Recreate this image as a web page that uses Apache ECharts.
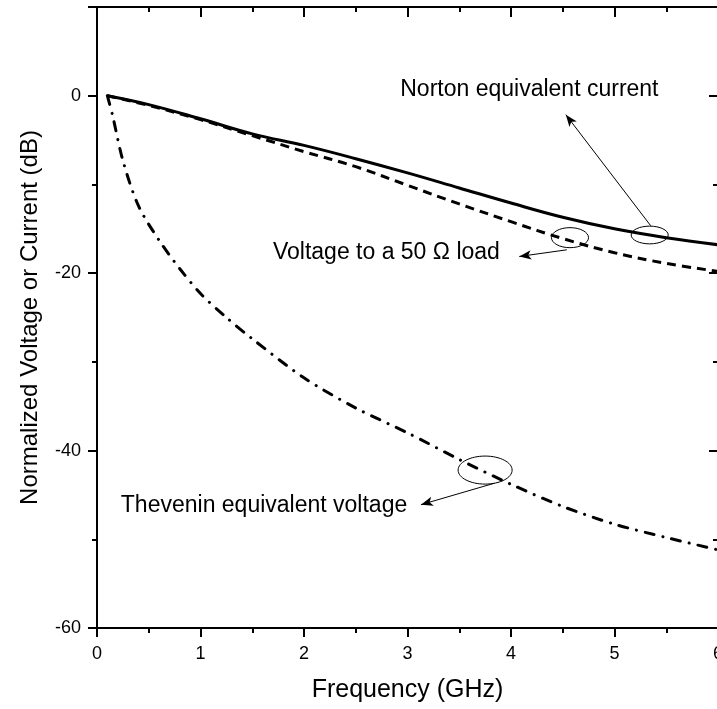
<!DOCTYPE html>
<html>
<head>
<meta charset="utf-8">
<script src="https://cdn.jsdelivr.net/npm/echarts@6/dist/echarts.min.js"></script>
<style>
  html, body { margin: 0; padding: 0; background: #fff; }
  #chart { width: 717px; height: 709px; }
</style>
</head>
<body>
<div id="chart"></div>
<script>
// curves (GHz, dB)
const nortonF = [0.1, 0.5, 1, 1.5, 2, 2.5, 3, 3.5, 4, 4.5, 5, 5.5, 6];
const nortonDb = [0, -1.0, -2.6, -4.3, -5.6, -7.1, -8.7, -10.4, -12.1, -13.7, -15.0, -16.0, -16.8];

const loadF = [0.1, 0.5, 1, 1.5, 2, 2.5, 3, 3.5, 4, 4.5, 5, 5.5, 6];
const loadDb = [0, -1.1, -2.7, -4.5, -6.3, -8.0, -10.1, -12.2, -14.2, -16.1, -17.7, -18.9, -19.8];

const theveninF = [0.1, 0.15, 0.25, 0.4, 0.6, 0.8, 1, 1.25, 1.5, 2, 2.5, 3, 3.5, 4, 4.5, 5, 5.5, 6];
const theveninDb = [0, -2.2, -7.3, -12.4, -16.3, -19.5, -22.3, -25.0, -27.4, -31.8, -35.2, -38.0, -41.0, -43.8, -46.3, -48.3, -49.8, -51.2];

// annotations, in data units: [f, dB, half-width GHz, half-height dB]
const ellipses = [
  [5.34, -15.7, 0.179, 1.0],
  [4.57, -16.0, 0.179, 1.13],
  [3.75, -42.2, 0.261, 1.58]
];
const arrows = [
  [[5.35, -14.66], [4.53, -2.14]],
  [[4.54, -17.37], [4.08, -18.12]],
  [[3.84, -43.68], [3.13, -46.1]]
];
const notes = [
  [2.93, 0.7, 'Norton equivalent current'],
  [1.7, -17.7, 'Voltage to a 50 \u03a9 load'],
  [0.23, -46.2, 'Thevenin equivalent voltage']
];

const xTicks = [0, 6, 1];
const yTicks = [-60, 10, 20];

const zip = (a, b) => a.map((v, i) => [v, b[i]]);
const FONT = '"Liberation Sans", Arial, sans-serif';
const black = '#000';

const chart = echarts.init(document.getElementById('chart'));

const baseX = {
  type: 'value',
  min: xTicks[0],
  max: xTicks[1],
  interval: xTicks[2],
  splitLine: { show: false },
  axisLine: { show: true, onZero: false, lineStyle: { color: black, width: 2 } },
  axisTick: { show: true, length: 9, lineStyle: { color: black, width: 2 } },
  minorTick: { show: true, splitNumber: 2, length: 5, lineStyle: { color: black, width: 2 } },
};
const baseY = {
  type: 'value',
  min: yTicks[0],
  max: yTicks[1],
  interval: yTicks[2],
  splitLine: { show: false },
  axisLine: { show: true, onZero: false, lineStyle: { color: black, width: 2 } },
  axisTick: { show: true, length: 9, lineStyle: { color: black, width: 2 } },
  minorTick: { show: true, splitNumber: 2, length: 5, lineStyle: { color: black, width: 2 } },
};

chart.setOption({
  animation: false,
  backgroundColor: '#fff',
  grid: { left: 97, right: -1, top: 7, bottom: 81, outerBoundsMode: 'none', containLabel: false },
  xAxis: [
    Object.assign({}, baseX, {
      position: 'bottom',
      name: 'Frequency (GHz)',
      nameLocation: 'middle',
      nameGap: 50,
      nameTextStyle: { color: black, fontSize: 25, fontFamily: FONT },
      axisLabel: { color: black, fontSize: 18, fontFamily: FONT, margin: 17 },
    }),
    Object.assign({}, baseX, {
      position: 'top',
      axisTick: { show: true, inside: true, length: 10, lineStyle: { color: black, width: 2 } },
      axisLabel: { show: false },
    }),
  ],
  yAxis: [
    Object.assign({}, baseY, {
      position: 'left',
      name: 'Normalized Voltage or Current (dB)',
      nameLocation: 'middle',
      nameGap: 55,
      nameTextStyle: { color: black, fontSize: 24, fontFamily: FONT },
      axisLabel: { color: black, fontSize: 18, fontFamily: FONT, margin: 16, showMaxLabel: false },
    }),
    Object.assign({}, baseY, {
      position: 'right',
      axisTick: { show: true, inside: true, length: 9, lineStyle: { color: black, width: 2 } },
      axisLabel: { show: false },
    }),
  ],
  series: [
    {
      name: 'Norton equivalent current',
      type: 'line',
      data: zip(nortonF, nortonDb),
      smooth: 0.4,
      showSymbol: false,
      lineStyle: { color: black, width: 3 },
      markLine: {
        silent: true,
        symbol: ['none', 'arrow'],
        symbolSize: [7, 12],
        label: { show: false },
        lineStyle: { color: black, width: 1, type: 'solid' },
        data: arrows.map((a) => [{ coord: a[0] }, { coord: a[1] }]),
      },
    },
    {
      name: 'Voltage to a 50 \u03a9 load',
      type: 'line',
      data: zip(loadF, loadDb),
      smooth: 0.4,
      showSymbol: false,
      lineStyle: { color: black, width: 3, type: [9, 6] },
    },
    {
      name: 'Thevenin equivalent voltage',
      type: 'line',
      data: zip(theveninF, theveninDb),
      smooth: 0.3,
      showSymbol: false,
      lineStyle: { color: black, width: 3, type: [9, 9, 0.1, 9], cap: 'round' },
    },
    {
      type: 'custom',
      silent: true,
      data: ellipses,
      renderItem: (params, api) => {
        const c = api.coord([api.value(0), api.value(1)]);
        const s = api.size([api.value(2), api.value(3)]);
        return {
          type: 'ellipse',
          shape: { cx: c[0], cy: c[1], rx: s[0], ry: s[1] },
          style: { fill: 'none', stroke: black, lineWidth: 1 },
        };
      },
    },
    {
      type: 'custom',
      silent: true,
      data: notes,
      renderItem: (params, api) => {
        const c = api.coord([api.value(0), api.value(1)]);
        return {
          type: 'text',
          style: {
            x: c[0], y: c[1],
            text: notes[params.dataIndex][2],
            fill: black,
            font: '23px ' + FONT,
            align: 'left',
            verticalAlign: 'middle',
          },
        };
      },
    },
  ],
});
</script>
</body>
</html>
